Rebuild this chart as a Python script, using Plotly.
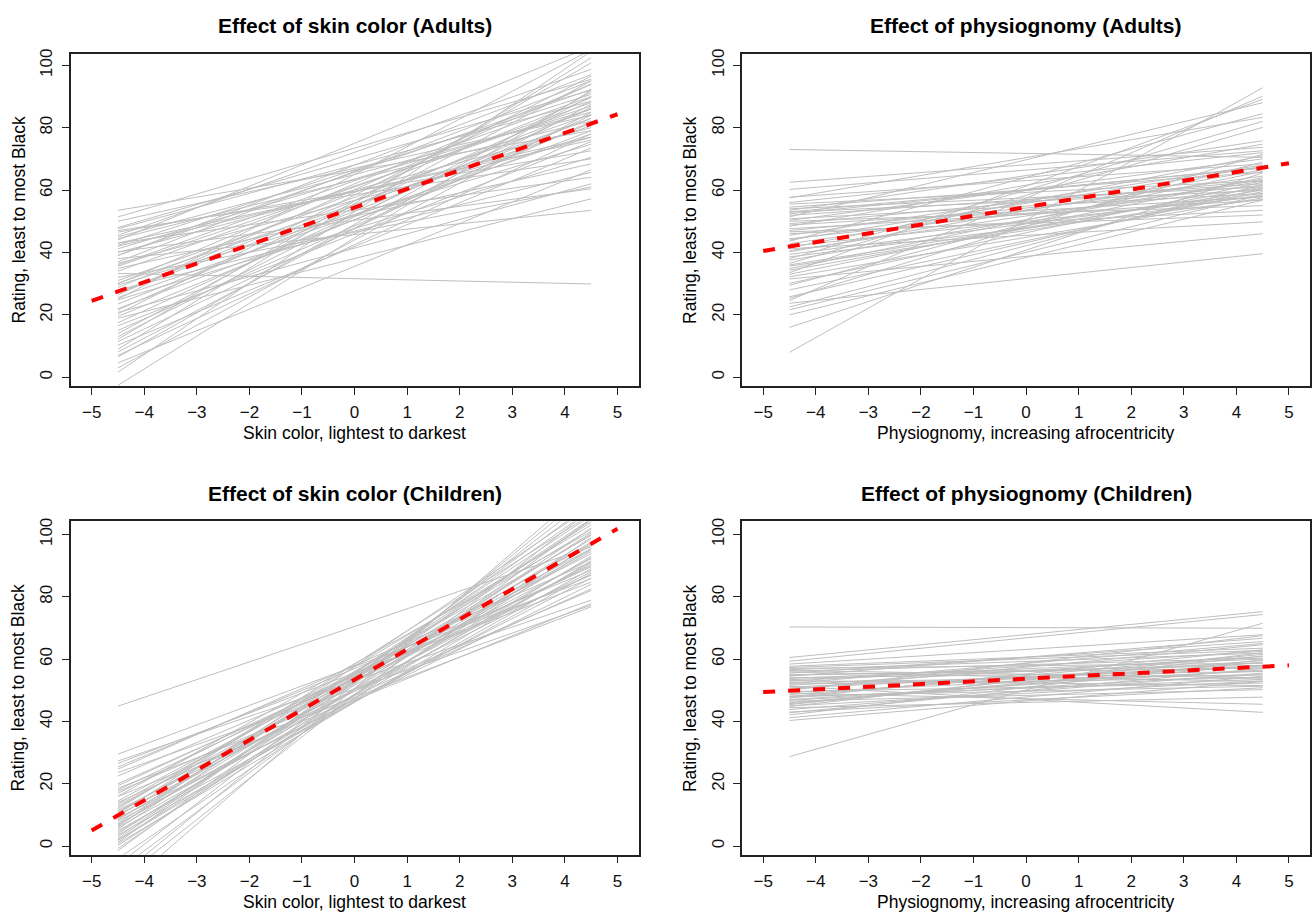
import plotly.graph_objects as go

# ---------------- data ----------------
X_START, X_END = -4.5, 4.5
FIT_X = [-5, 5]

# Adults, skin color: per-rater lines (rating at x=-4.5, rating at x=4.5)
adult_skin_start = [53.5, 51.4, 47.6, 46.5, 45.5, 44.4, 43.0, 42.3, 41.2, 40.2, 39.1, 36.5, 35.6, 34.9,
                    33.3, 31.0, 30.2, 29.6, 28.8, 28.0, 27.2, 26.4, 25.6, 24.8, 23.5, 21.6, 20.8, 20.3,
                    19.5, 18.9, 17.5, 16.5, 13.0, 12.2, 11.4, 10.3, 9.0, 8.1, 6.5, 4.6, 1.6, -2.6,
                    38.0, 32.0, 47.0, 44.0, 42.0, 37.0, 45.0, 40.0, 36.0, 27.0, 30.0, 25.0, 22.0,
                    15.0, 14.0, 7.0, 3.0, 34.0, 39.0, 43.0, 48.0, 50.0]
adult_skin_end = [79.0, 95.5, 88.5, 72.6, 98.7, 82.2, 64.1, 90.7, 85.9, 60.4, 92.3, 76.9, 87.0, 68.4,
                  29.9, 84.3, 80.6, 74.7, 89.6, 65.7, 86.0, 93.9, 78.0, 70.5, 83.0, 88.5, 62.0, 96.5,
                  81.5, 57.2, 86.5, 75.5, 90.0, 100.8, 84.0, 73.5, 102.4, 87.5, 91.5, 66.5, 104.5, 92.0,
                  53.5, 61.0, 70.0, 106.0, 77.0, 95.0, 85.0, 80.0, 90.0, 83.0, 94.0, 105.0, 79.0,
                  82.0, 95.0, 78.0, 85.0, 88.0, 97.0, 76.0, 92.0, 84.0]
adult_skin_fit = [24.5, 84.3]

# Adults, physiognomy
adult_phys_start = [73.0, 62.5, 60.2, 57.7, 57.5, 54.5, 54.0, 53.5, 52.9, 52.4, 51.9, 51.4, 50.8, 50.3,
                    49.2, 48.8, 48.4, 47.6, 47.0, 46.6, 45.5, 44.4, 43.6, 42.8, 42.0, 41.2, 40.6, 40.2,
                    39.4, 38.6, 37.5, 36.5, 36.0, 35.6, 34.3, 33.5, 33.0, 32.2, 31.5, 30.1, 29.5, 25.8,
                    25.3, 24.6, 23.7, 21.6, 20.0, 16.0, 8.0, 55.5, 56.0, 46.0, 44.0, 38.0, 34.8, 28.0,
                    22.5, 50.0, 53.0, 41.5]
adult_phys_end = [70.5, 73.7, 72.6, 68.4, 83.3, 65.7, 61.0, 75.8, 59.9, 67.3, 62.0, 88.0, 58.9, 70.0,
                  63.0, 57.8, 74.7, 56.8, 61.5, 52.0, 68.0, 60.5, 84.5, 64.5, 58.0, 49.8, 62.8, 66.5,
                  59.0, 57.0, 63.5, 80.1, 60.0, 58.5, 61.0, 89.1, 64.0, 57.5, 46.0, 62.5, 69.0, 60.5,
                  71.5, 90.1, 39.6, 58.5, 56.8, 65.5, 92.8, 63.0, 72.0, 53.5, 67.5, 82.0, 66.0, 59.5,
                  61.8, 55.0, 67.0, 71.0]
adult_phys_fit = [40.5, 68.6]

# Children, skin color
child_skin_start = [44.9, 29.5, 27.3, 26.5, 25.4, 24.7, 23.6, 22.5, 19.4, 18.6, 17.5, 16.9, 15.9, 14.5,
                    13.0, 12.4, 11.5, 10.8, 10.0, 9.5, 8.7, 8.0, 7.3, 6.6, 6.0, 5.5, 4.5, 4.0, 3.5,
                    2.4, 1.8, 1.2, 0.2, -0.8, -1.5, -4.0, -6.0, -7.8, -10.0, -11.4, -14.8, 11.0, 9.0,
                    7.0, 5.0, 3.0, 12.0, 14.0, 2.0, 0.8, 6.3, 8.4, 10.3, 13.5, 16.0, 18.0, 20.0]
child_skin_end = [96.0, 85.8, 78.9, 84.7, 88.5, 91.2, 77.3, 86.9, 89.6, 76.8, 82.0, 93.8, 77.8, 95.4,
                  92.2, 99.7, 88.0, 97.5, 90.5, 101.8, 94.5, 86.0, 103.9, 98.5, 91.0, 106.0, 96.5, 100.5,
                  89.0, 104.5, 93.0, 108.0, 97.0, 102.0, 110.0, 99.0, 112.0, 105.0, 114.0, 108.0, 116.0,
                  95.0, 84.0, 92.5, 87.5, 105.0, 103.0, 82.5, 95.5, 91.5, 109.0, 100.0, 106.5, 97.0,
                  101.0, 90.0, 87.0]
child_skin_fit = [5.0, 101.8]

# Children, physiognomy
child_phys_start = [70.3, 60.5, 59.3, 58.4, 57.7, 57.0, 56.6, 56.1, 55.5, 55.0, 54.5, 54.0, 53.4, 52.9,
                    52.5, 52.0, 51.6, 51.3, 50.7, 50.2, 49.6, 49.1, 48.6, 48.1, 47.5, 47.0, 46.5, 46.0,
                    45.4, 45.0, 44.4, 43.8, 42.8, 42.1, 41.2, 40.3, 28.7, 53.8, 56.3, 50.0, 48.0, 44.8,
                    43.0, 46.8, 54.8, 52.2, 57.3, 49.3, 45.7, 47.8, 51.0, 53.1, 55.8]
child_phys_end = [69.9, 75.2, 74.3, 67.8, 63.5, 58.7, 61.9, 60.3, 65.6, 57.1, 66.7, 56.0, 58.7, 62.5,
                  55.0, 53.9, 60.8, 42.9, 57.5, 64.6, 52.3, 45.5, 59.5, 51.3, 63.0, 56.5, 50.2, 58.0,
                  61.0, 53.0, 47.8, 55.5, 57.0, 59.8, 54.5, 52.8, 71.5, 60.0, 54.0, 67.5, 61.5, 62.0,
                  50.8, 55.0, 58.0, 65.0, 62.8, 56.2, 59.0, 53.5, 57.8, 51.5, 52.8]
child_phys_fit = [49.4, 58.0]

titles = ["Effect of skin color (Adults)", "Effect of physiognomy (Adults)",
          "Effect of skin color (Children)", "Effect of physiognomy (Children)"]
xlabels = ["Skin color, lightest to darkest", "Physiognomy, increasing afrocentricity",
           "Skin color, lightest to darkest", "Physiognomy, increasing afrocentricity"]
ylabel = "Rating, least to most Black"
x_ticks = [-5, -4, -3, -2, -1, 0, 1, 2, 3, 4, 5]
y_ticks = [0, 20, 40, 60, 80, 100]

# ---------------- layout geometry (pixels) ----------------
W, H = 1312, 915
panels = [
    # (left, right, top, bottom) pixel borders, y range
    dict(l=70.7, r=639.0, t=49.0, b=383.3, yr=[-2.87, 103.7]),
    dict(l=742.7, r=1311.0, t=49.0, b=383.3, yr=[-2.87, 103.7]),
    dict(l=70.7, r=639.0, t=519.3, b=854.3, yr=[-2.74, 104.15]),
    dict(l=742.7, r=1311.0, t=519.3, b=854.3, yr=[-2.74, 104.15]),
]
datasets = [
    (adult_skin_start, adult_skin_end, adult_skin_fit),
    (adult_phys_start, adult_phys_end, adult_phys_fit),
    (child_skin_start, child_skin_end, child_skin_fit),
    (child_phys_start, child_phys_end, child_phys_fit),
]

FONT = "Liberation Sans, Arial, Helvetica, sans-serif"
fig = go.Figure()
annotations = []
layout_axes = {}

for i, (p, (s, e, fit)) in enumerate(zip(panels, datasets)):
    n = "" if i == 0 else str(i + 1)
    xs, ys = [], []
    for a, b in zip(s, e):
        xs += [X_START, X_END, None]
        ys += [a, b, None]
    fig.add_trace(go.Scatter(x=xs, y=ys, mode="lines", xaxis="x" + n, yaxis="y" + n,
                             line=dict(color="#BEBEBE", width=1), hoverinfo="skip",
                             showlegend=False))
    fig.add_trace(go.Scatter(x=FIT_X, y=fit, mode="lines", xaxis="x" + n, yaxis="y" + n,
                             line=dict(color="#FF0000", width=4, dash="12px,13px"),
                             hoverinfo="skip", showlegend=False))
    axis_common = dict(showline=True, mirror=True, linecolor="#222222", linewidth=1.5,
                       ticks="outside", ticklen=7, tickwidth=1.2, tickcolor="#222222",
                       showgrid=False, zeroline=False,
                       tickfont=dict(family=FONT, size=17, color="#111111"))
    layout_axes["xaxis" + n] = dict(axis_common, domain=[p["l"] / W, p["r"] / W],
                                    range=[-5.4, 5.4], tickvals=x_ticks,
                                    anchor="y" + n, ticklabelstandoff=3)
    layout_axes["yaxis" + n] = dict(axis_common, domain=[1 - p["b"] / H, 1 - p["t"] / H],
                                    range=p["yr"], tickvals=y_ticks, tickangle=-90,
                                    anchor="x" + n, ticklabelstandoff=3)
    cx = (p["l"] + p["r"]) / 2
    annotations.append(dict(text="<b>" + titles[i] + "</b>", x=cx / W, y=1 - (p["t"] - 28.5) / H,
                            xref="paper", yref="paper", xanchor="center", yanchor="middle",
                            showarrow=False, font=dict(family=FONT, size=21, color="#000000")))
    annotations.append(dict(text=xlabels[i], x=cx / W, y=1 - (p["b"] + 47.5) / H,
                            xref="paper", yref="paper", xanchor="center", yanchor="middle",
                            showarrow=False, font=dict(family=FONT, size=17.5, color="#000000")))
    cy = (p["t"] + p["b"]) / 2
    annotations.append(dict(text=ylabel, x=(p["l"] - 52.2) / W, y=1 - cy / H,
                            xref="paper", yref="paper", xanchor="center", yanchor="middle",
                            textangle=-90, showarrow=False,
                            font=dict(family=FONT, size=17.5, color="#000000")))

fig.update_layout(width=W, height=H, margin=dict(l=0, r=0, t=0, b=0),
                  plot_bgcolor="white", paper_bgcolor="white",
                  annotations=annotations, **layout_axes)
fig.write_html("out.html", config={"displayModeBar": False},
               post_script="document.body.style.margin='0';"
                           "document.body.style.overflow='hidden';")
